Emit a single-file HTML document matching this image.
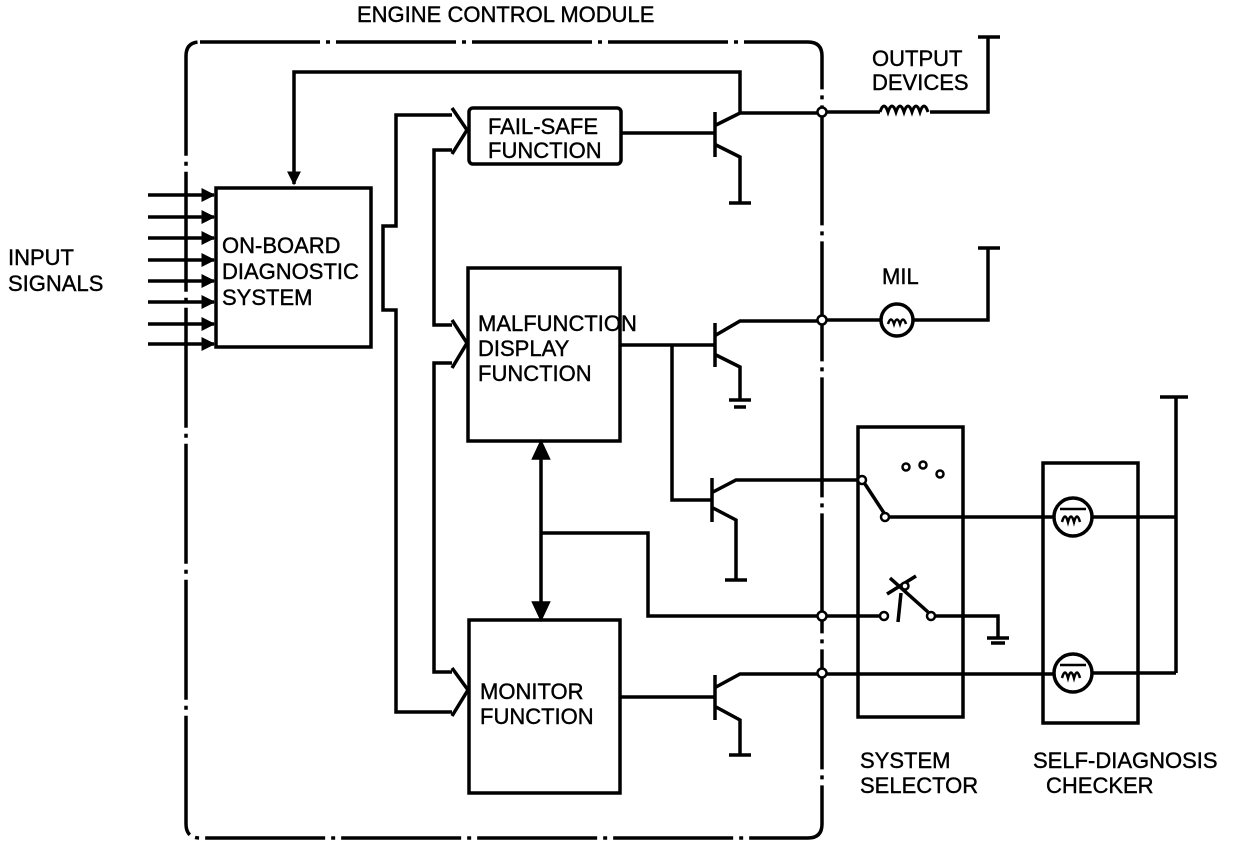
<!DOCTYPE html>
<html><head><meta charset="utf-8"><style>
html,body{margin:0;padding:0;background:#fff;}
svg{display:block}
text{font-family:"Liberation Sans",Arial,sans-serif;font-size:22px;fill:#000;stroke:#000;stroke-width:0.4}
</style></head><body>
<svg width="1248" height="852" viewBox="0 0 1248 852" xmlns="http://www.w3.org/2000/svg">
<defs>
<marker id="ah" viewBox="0 0 10 10" refX="9" refY="5" markerWidth="4" markerHeight="4" orient="auto"><path d="M0,0 L10,5 L0,10 z" fill="#000"/></marker>
</defs>
<g fill="none" stroke="#000" stroke-width="3.5">
<path d="M200,42 H808 Q822,42 822,56 V824 Q822,838 808,838 H200 Q186,838 186,824 V56 Q186,42 200,42 Z" stroke-dasharray="120,6,4,6"/>
<rect x="216" y="188" width="155" height="159"/>
<g marker-end="url(#ah)">
<line x1="148" y1="195" x2="214" y2="195"/><line x1="148" y1="217" x2="214" y2="217"/>
<line x1="148" y1="238" x2="214" y2="238"/><line x1="148" y1="260" x2="214" y2="260"/>
<line x1="148" y1="281" x2="214" y2="281"/><line x1="148" y1="302" x2="214" y2="302"/>
<line x1="148" y1="324" x2="214" y2="324"/><line x1="148" y1="344" x2="214" y2="344"/>
</g>
<path d="M740,112 V72 H294 V184" marker-end="url(#ah)"/>
<path d="M452,115 H396 V226 H383 V310 H396 V712 H452"/>
<path d="M452,108 L467,130 L452,154"/>
<path d="M452,150 H434 V325 H452"/>
<path d="M452,320 L467,343 L452,368"/>
<path d="M452,363 H434 V672 H452"/>
<path d="M452,668 L468,690 L452,716"/>
<rect x="469" y="108" width="152" height="56" rx="4"/>
<rect x="468" y="268" width="152" height="173"/>
<rect x="469" y="620" width="151" height="173"/>
<path d="M621,133 H715 M715,112 V157 M716,125 L740,113 H822 M716,145 L740,157 V203 M729,203 H751"/>
<path d="M620,345 H715 M715,323 V367 M716,335 L740,321 H822 M716,355 L740,367 V400 M729,400 H751 M734,407 H746"/>
<path d="M672,345 V500 H712 M712,478 V522 M713,492 L736,480 H862 M713,508 L736,520 V580 M725,580 H747"/>
<path d="M620,697 H715 M715,675 V720 M716,687 L740,674 H1055 M716,707 L740,720 V755 M729,755 H751"/>
<line x1="541" y1="455" x2="541" y2="606"/>
<path d="M534,458 L541,443 L548,458 Z M534,603 L541,618 L548,603 Z" fill="#000"/>
<path d="M541,533 H648 V616 H882"/>
<path d="M887,594 L916,576 M890,578 L928,612 M901,593 L898,622"/>
<path d="M934,616 H998 V638 M987,638 H1009 M991,643 H1005"/>
<rect x="858" y="427" width="105" height="290"/>
<rect x="1043" y="463" width="95" height="260"/>
<path d="M865,484 L884,513"/>
<path d="M888,517 H1055 M1091,517 H1176 M1176,397 V673 M1160,397 H1188 M1091,673 H1176"/>
<circle cx="1073" cy="517" r="19"/><circle cx="1073" cy="673" r="19"/>
<path d="M822,112 H880 M930,112 H988 V37 M978,37 H1000"/>
<path d="M880,112 q4,-12 8,0 q4,-12 8,0 q4,-12 8,0 q4,-12 8,0 q4,-12 8,0 q4,-12 8,0" stroke-width="3"/>
<path d="M822,320 H880 M914,320 H988 V248 M978,248 H1000"/>
<circle cx="897" cy="320" r="16"/>
</g>
<g fill="none" stroke="#000" stroke-width="2.5">
<path d="M888,324 q3,-9 6,0 q3,-9 6,0 q3,-9 6,0"/>
<path d="M1062,522 q3,-11 6,0 q3,-11 6,0 q3,-11 6,0 M1060,509 H1086"/>
<path d="M1062,678 q3,-11 6,0 q3,-11 6,0 q3,-11 6,0 M1060,665 H1086"/>
</g>
<g fill="#fff" stroke="#000" stroke-width="2.5">
<circle cx="822" cy="112" r="4.5"/><circle cx="822" cy="320" r="4.5"/>
<circle cx="822" cy="616" r="4.5"/><circle cx="822" cy="673" r="4.5"/>
<circle cx="862" cy="480" r="4"/><circle cx="885" cy="517" r="4"/>
<circle cx="906" cy="467" r="3.5"/><circle cx="923" cy="465" r="3.5"/><circle cx="940" cy="474" r="3.5"/>
<circle cx="884" cy="616" r="4"/><circle cx="931" cy="616" r="4"/><circle cx="905" cy="586" r="3.5"/>
</g>
<text x="357" y="22">ENGINE CONTROL MODULE</text>
<text x="8" y="265">INPUT</text><text x="8" y="291">SIGNALS</text>
<text x="222" y="253">ON-BOARD</text><text x="222" y="279">DIAGNOSTIC</text><text x="222" y="305">SYSTEM</text>
<text x="488" y="134">FAIL-SAFE</text><text x="488" y="158">FUNCTION</text>
<text x="478" y="331">MALFUNCTION</text><text x="478" y="356">DISPLAY</text><text x="478" y="381">FUNCTION</text>
<text x="480" y="699">MONITOR</text><text x="480" y="724">FUNCTION</text>
<text x="872" y="66">OUTPUT</text><text x="872" y="90">DEVICES</text>
<text x="882" y="284">MIL</text>
<text x="860" y="768">SYSTEM</text><text x="860" y="793">SELECTOR</text>
<text x="1033" y="768">SELF-DIAGNOSIS</text><text x="1046" y="793">CHECKER</text>
</svg>
</body></html>
